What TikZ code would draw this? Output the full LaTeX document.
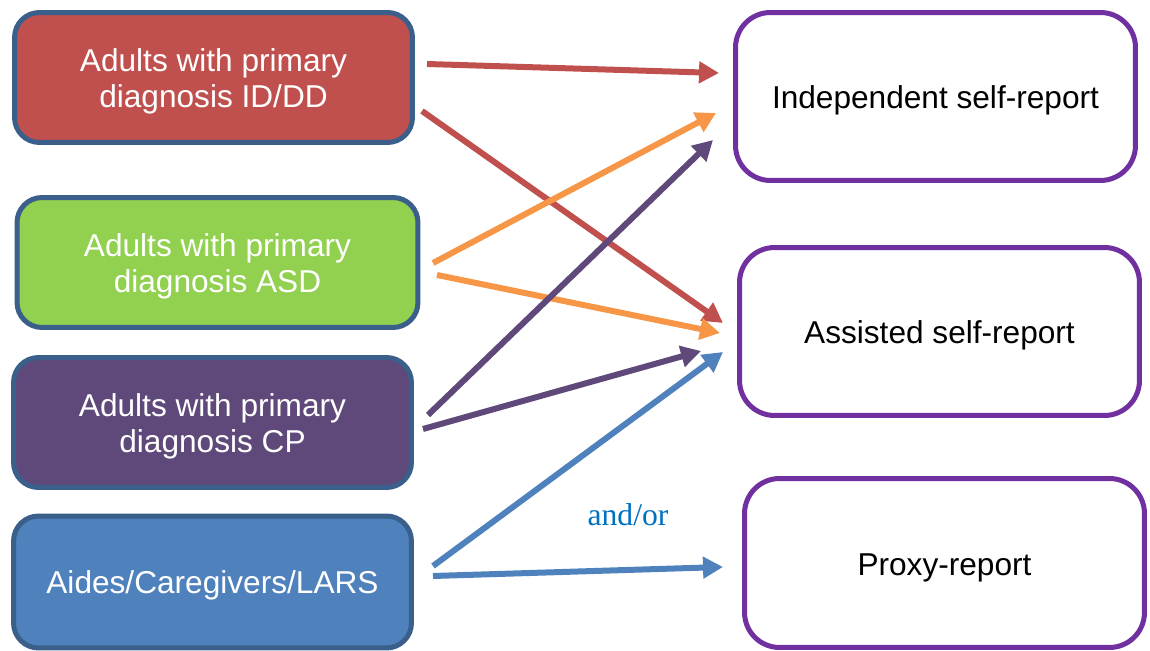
\documentclass[tikz,border=0pt]{standalone}
\usepackage{fontspec}
\setmainfont{Liberation Sans}
\newfontfamily\notefont{Liberation Serif}
\usetikzlibrary{arrows.meta}

\definecolor{idred}{HTML}{C0504D}
\definecolor{asdgreen}{HTML}{92D050}
\definecolor{cppurple}{HTML}{5F497A}
\definecolor{aideblue}{HTML}{4F81BD}
\definecolor{edgeblue}{HTML}{3A5F8B}
\definecolor{reportpurple}{HTML}{7030A0}
\definecolor{arroworange}{HTML}{F79646}
\definecolor{noteblue}{HTML}{0070C0}

\tikzset{
  groupbox/.style={draw=edgeblue, line width=0.1cm, rounded corners=0.5cm,
    minimum width=7.96cm, minimum height=2.6cm, align=center,
    text height=38.5pt, text depth=3.8pt,
    text=white, font=\fontsize{18}{21}\selectfont},
  reportbox/.style={draw=reportpurple, line width=0.1cm, rounded corners=0.7cm,
    fill=white, minimum width=8cm, minimum height=3.36cm, align=center,
    text height=17.6pt, text depth=3.8pt,
    font=\fontsize{18}{21}\selectfont},
  link/.style={line width=0.12cm, -{Triangle[length=0.4cm,width=0.42cm]}}
}

\begin{document}
\begin{tikzpicture}[x=0.02cm,y=-0.02cm]
  \useasboundingbox (0,0) rectangle (1150,651);

  % Draw the groups on the left
  \node[groupbox, fill=idred] (id) at (213.5,77.5) {Adults with primary\\diagnosis ID/DD};
  \node[groupbox, fill=asdgreen, minimum width=8.02cm] (asd) at (217.5,262.5) {Adults with primary\\diagnosis ASD};
  \node[groupbox, fill=cppurple] (cp) at (212.5,422.5) {Adults with primary\\diagnosis CP};
  \node[groupbox, fill=aideblue, minimum height=2.64cm, text height=17.4pt] (aides) at (212.5,582) {Aides/Caregivers/LARS};

  % Draw the report types on the right
  \node[reportbox] (indep) at (935.5,96.5) {Independent self-report};
  \node[reportbox] (assist) at (939.5,331.5) {Assisted self-report};
  \node[reportbox, minimum height=3.38cm] (proxy) at (944.5,563) {Proxy-report};

  % Draw the start and end points of the arrows
  \coordinate (id-a) at (427,64);
  \coordinate (id-b) at (422,111);
  \coordinate (asd-a) at (433,263);
  \coordinate (asd-b) at (437,275);
  \coordinate (cp-a) at (428,415);
  \coordinate (cp-b) at (423,429);
  \coordinate (aides-a) at (433,566);
  \coordinate (aides-b) at (433,576);
  \coordinate (indep-a) at (719,73);
  \coordinate (indep-b) at (716,113);
  \coordinate (indep-c) at (713,140);
  \coordinate (assist-a) at (723,323);
  \coordinate (assist-b) at (720,333);
  \coordinate (assist-c) at (701,351);
  \coordinate (assist-d) at (723,352);
  \coordinate (proxy-a) at (723,567);

  % Draw the arrows
  \draw[link, idred] (id-a) -- (indep-a);
  \draw[link, idred] (id-b) -- (assist-a);
  \draw[link, arroworange] (asd-a) -- (indep-b);
  \draw[link, arroworange] (asd-b) -- (assist-b);
  \draw[link, cppurple] (cp-a) -- (indep-c);
  \draw[link, cppurple] (cp-b) -- (assist-c);
  \draw[link, aideblue] (aides-a) -- (assist-d);
  \draw[link, aideblue] (aides-b) -- (proxy-a);

  % Draw the note between the blue arrows
  \node[text=noteblue, font=\notefont\fontsize{18}{21}\selectfont] (andor) at (628,515) {and/or};
\end{tikzpicture}
\end{document}
